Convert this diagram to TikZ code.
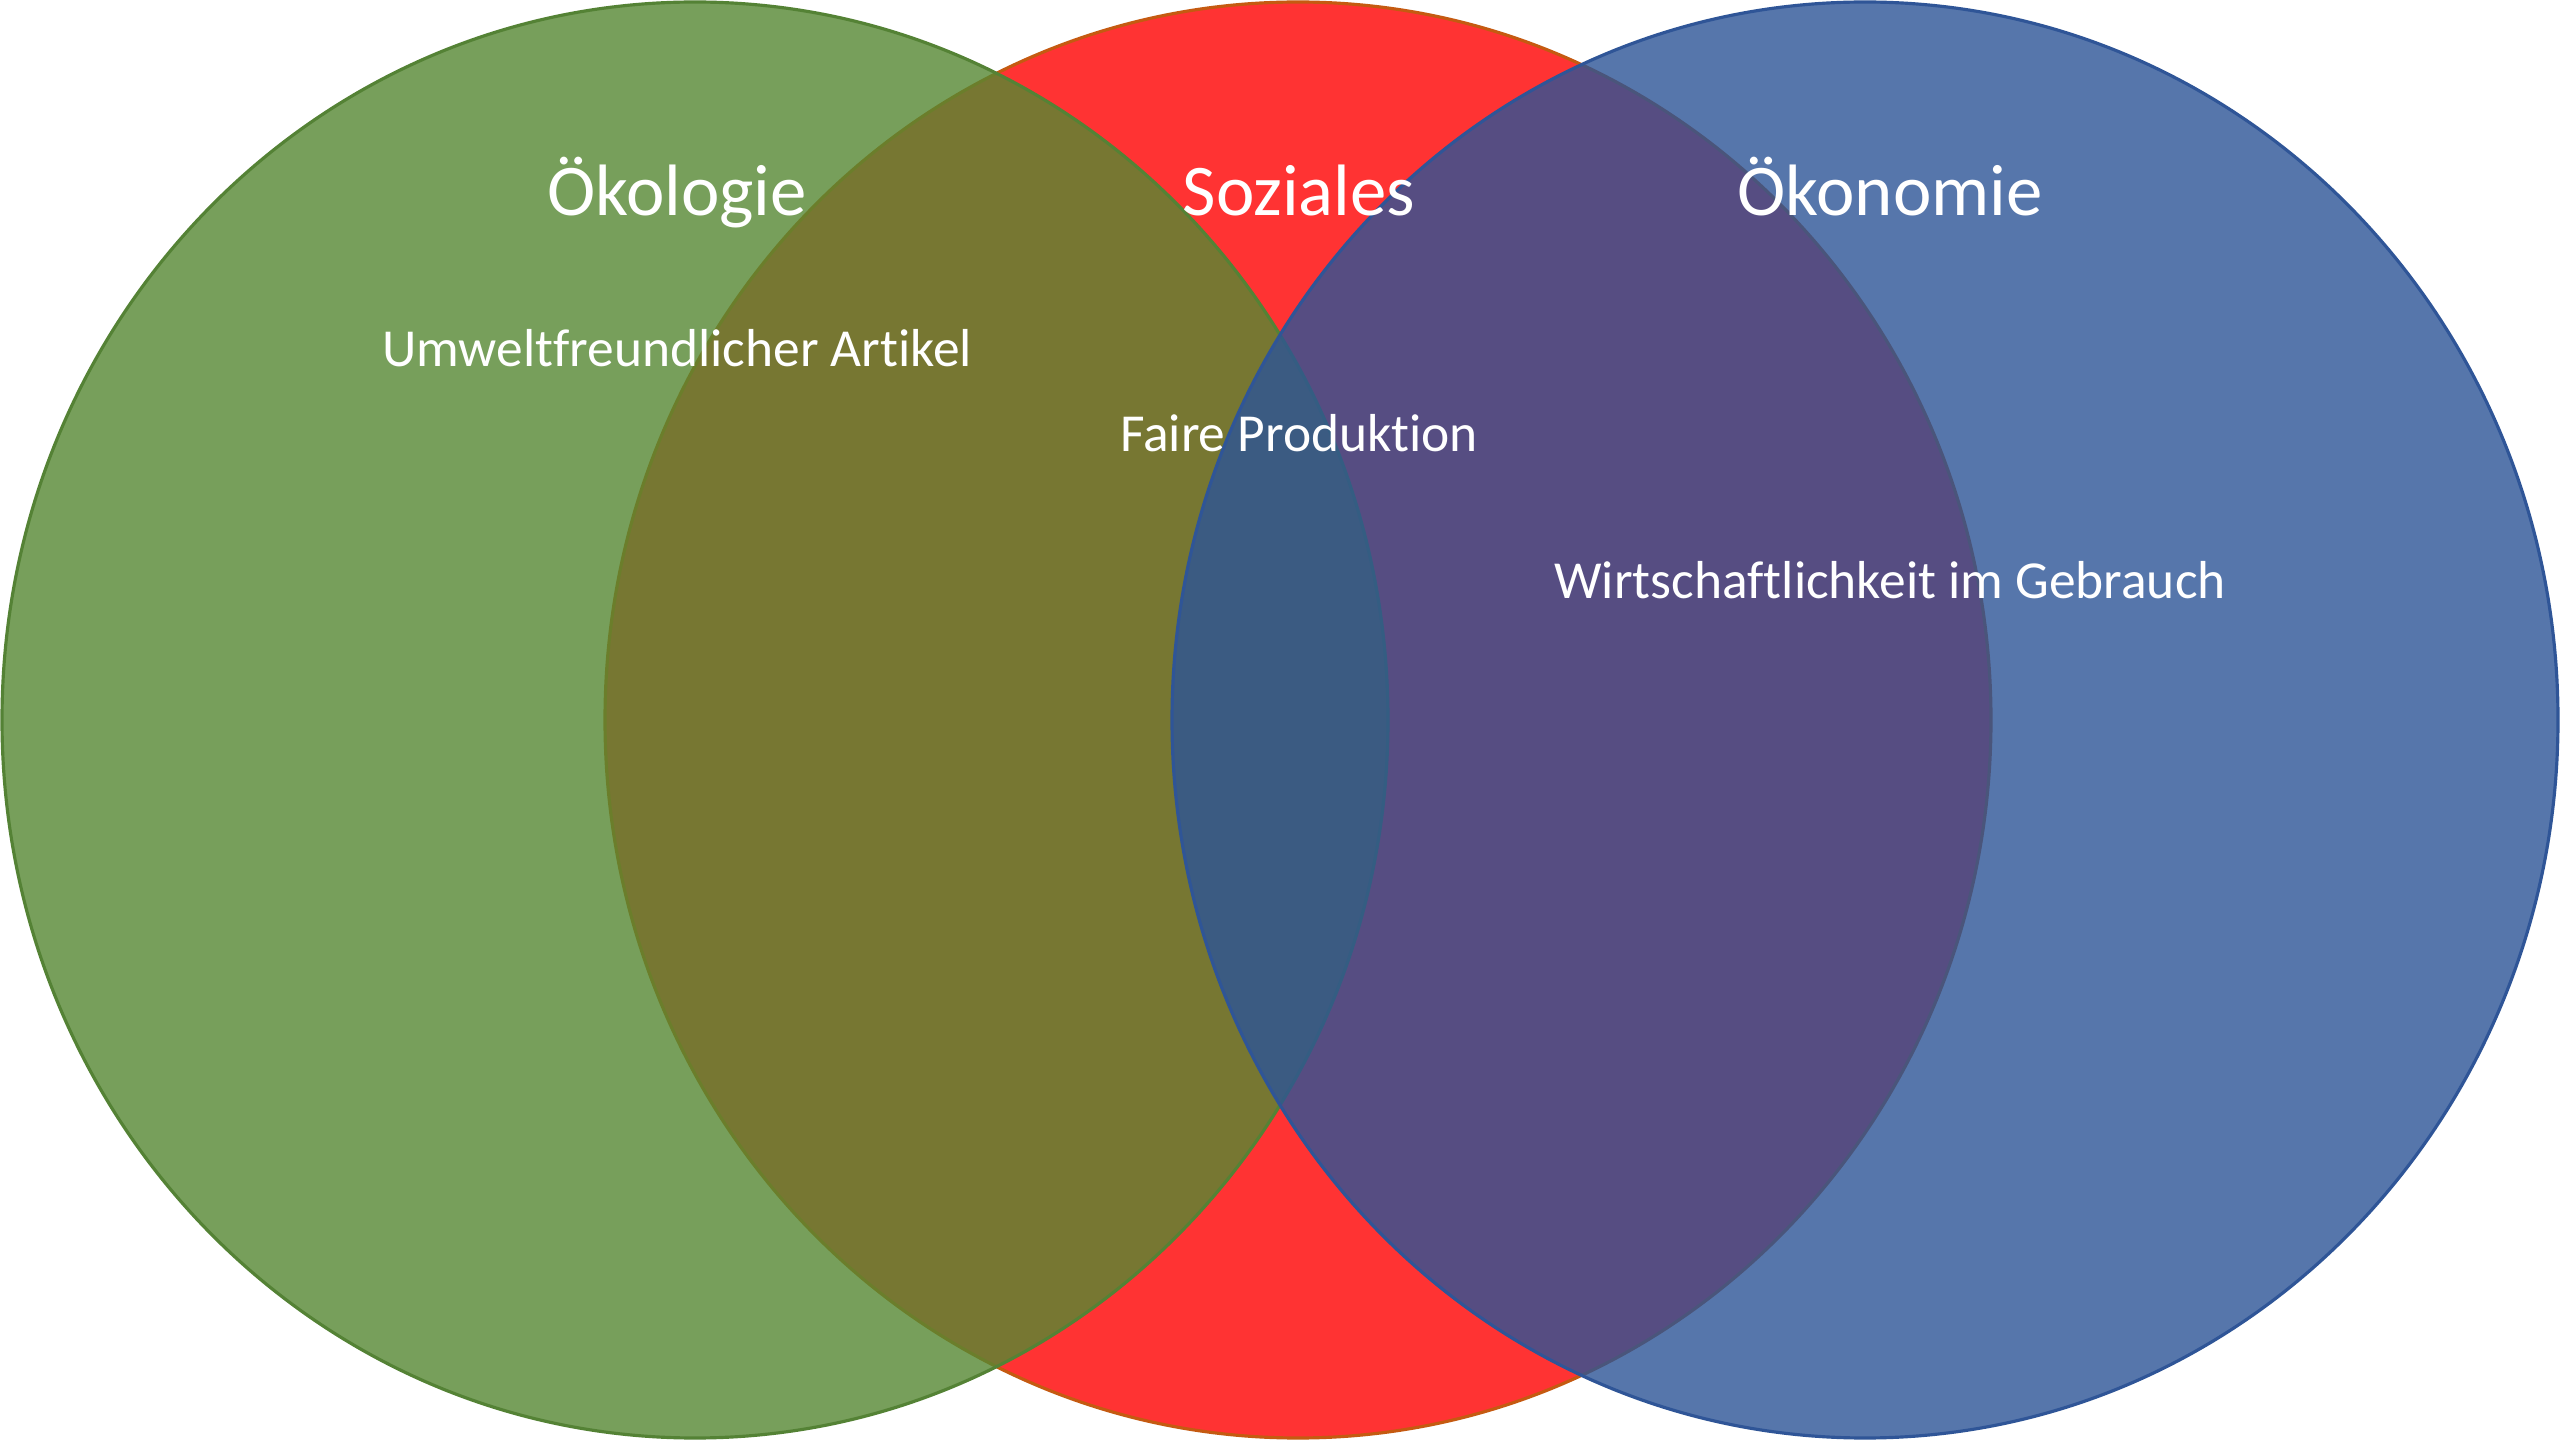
\documentclass[tikz,border=0pt]{standalone}
\usepackage{fontspec}
\setmainfont[Ligatures={NoCommon}]{Carlito}
\definecolor{redfill}{HTML}{FF0000}
\definecolor{redline}{HTML}{C55A11}
\definecolor{greenfill}{HTML}{558832}
\definecolor{greenline}{HTML}{548235}
\definecolor{bluefill}{HTML}{2C5496}
\definecolor{blueline}{HTML}{2F5597}
\tikzset{
  venn/.style={line width=0.9pt, fill opacity=0.8},
  bigtitle/.style={text=white, anchor=base, inner sep=0pt, font=\fontsize{20.7}{25}\selectfont},
  smalltext/.style={text=white, anchor=base, inner sep=0pt, font=\fontsize{15.2}{18}\selectfont}
}
\begin{document}
\begin{tikzpicture}[x=0.01cm, y=-0.01cm]
\useasboundingbox (0,0) rectangle (2560,1440);
\fill[white] (0,0) rectangle (2560,1440);
% circles: red bottom, green, blue on top
\filldraw[venn, fill=redfill, draw=redline] (1298,720) ellipse [x radius=693, y radius=718];
\filldraw[venn, fill=greenfill, draw=greenline] (695,720) ellipse [x radius=693, y radius=718];
\filldraw[venn, fill=bluefill, draw=blueline] (1865,720) ellipse [x radius=693, y radius=718];
% titles
\node[bigtitle] (oek) at (677,216) {Ökologie};
\node[bigtitle] (soz) at (1299,216) {Soziales};
\node[bigtitle] (oekon) at (1890,216) {Ökonomie};
% items
\node[smalltext] (umw) at (677,367) {Umweltfreundlicher Artikel};
\node[smalltext] (fair) at (1299,452) {Faire Produktion};
\node[smalltext] (wirt) at (1890,599) {Wirtschaftlichkeit im Gebrauch};
\end{tikzpicture}
\end{document}
